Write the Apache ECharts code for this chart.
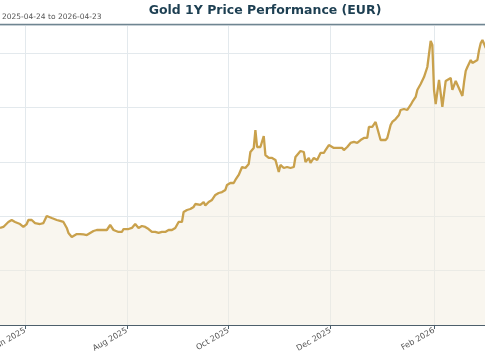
<!DOCTYPE html>
<html>
<head>
<meta charset="utf-8">
<script src="https://cdn.jsdelivr.net/npm/echarts@6/dist/echarts.min.js"></script>
<style>html,body{margin:0;padding:0;background:#fff}#c{width:485px;height:360px}</style>
</head>
<body>
<div id="c"></div>
<script>
const dates = [
'2025-05-17','2025-05-19','2025-05-20','2025-05-22','2025-05-24','2025-05-26','2025-05-29','2025-05-31',
'2025-06-02','2025-06-03','2025-06-05','2025-06-07','2025-06-10','2025-06-12','2025-06-14','2025-06-15',
'2025-06-17','2025-06-18','2025-06-20','2025-06-22','2025-06-24','2025-06-26','2025-06-27','2025-06-29',
'2025-06-30','2025-07-02','2025-07-04','2025-07-06','2025-07-08','2025-07-10','2025-07-12','2025-07-14',
'2025-07-16','2025-07-20','2025-07-22','2025-07-24','2025-07-27','2025-07-29','2025-07-30','2025-08-02',
'2025-08-04','2025-08-06','2025-08-08','2025-08-10','2025-08-12','2025-08-14','2025-08-16','2025-08-18',
'2025-08-20','2025-08-22','2025-08-24','2025-08-26','2025-08-28','2025-08-30','2025-09-01','2025-09-03',
'2025-09-04','2025-09-06','2025-09-08','2025-09-10','2025-09-11','2025-09-14','2025-09-16','2025-09-17',
'2025-09-19','2025-09-21','2025-09-23','2025-09-25','2025-09-27','2025-09-29','2025-09-30','2025-10-02',
'2025-10-04','2025-10-05','2025-10-07','2025-10-09','2025-10-11','2025-10-13','2025-10-14','2025-10-16',
'2025-10-17','2025-10-18','2025-10-20','2025-10-22','2025-10-23','2025-10-25','2025-10-27','2025-10-29',
'2025-10-31','2025-11-01','2025-11-03','2025-11-05','2025-11-07','2025-11-09','2025-11-10','2025-11-13',
'2025-11-15','2025-11-16','2025-11-18','2025-11-19','2025-11-21','2025-11-23','2025-11-25','2025-11-27',
'2025-11-28','2025-11-30','2025-12-01','2025-12-03','2025-12-06','2025-12-08','2025-12-09','2025-12-11',
'2025-12-13','2025-12-15','2025-12-17','2025-12-19','2025-12-21','2025-12-23','2025-12-24','2025-12-25',
'2025-12-26','2025-12-28','2025-12-29','2025-12-31','2026-01-01','2026-01-03','2026-01-04','2026-01-06',
'2026-01-07','2026-01-09','2026-01-11','2026-01-12','2026-01-14','2026-01-16','2026-01-18','2026-01-19',
'2026-01-21','2026-01-22','2026-01-24','2026-01-25','2026-01-26','2026-01-27','2026-01-28','2026-01-30',
'2026-01-31','2026-02-01','2026-02-02','2026-02-03','2026-02-04','2026-02-06','2026-02-08','2026-02-09',
'2026-02-11','2026-02-12','2026-02-14','2026-02-15','2026-02-18','2026-02-19','2026-02-20','2026-02-21',
'2026-02-23','2026-02-24','2026-02-27','2026-02-28','2026-03-01','2026-03-02','2026-03-03','2026-03-04'
];
const prices = [
2892,2901,2892,2947,2965,2947,2928,2901,
2928,2965,2965,2937,2928,2937,3002,3011,
2983,2974,2965,2956,2947,2892,2846,2809,
2800,2836,2836,2832,2827,2846,2864,2873,
2873,2873,2919,2873,2855,2855,2882,2882,
2892,2928,2892,2910,2901,2882,2855,2855,
2846,2855,2855,2873,2873,2892,2947,2947,
3039,3057,3066,3085,3112,3103,3130,3098,
3130,3149,3195,3213,3222,3241,3287,3305,
3305,3333,3379,3452,3443,3480,3590,3627,
3792,3636,3636,3737,3562,3535,3535,3517,
3406,3471,3443,3452,3443,3452,3544,3599,
3590,3498,3535,3489,3535,3517,3581,3581,
3608,3654,3664,3627,3627,3627,3608,3636,
3673,3682,3673,3700,3719,3719,3820,3838,
3820,3866,3857,3700,3696,3700,3719,3838,
3866,3893,3930,3976,3985,3976,4022,4050,
4096,4160,4215,4224,4279,4279,4371,4610,
4573,4160,4031,4013,4252,4004,4243,4252,
4270,4160,4243,4243,4105,4233,4335,4371,
4436,4408,4436,4528,4592,4619,4583,4546
];
const tickDates = ['2025-06-01','2025-08-01','2025-10-01','2025-12-01','2026-02-01'];
const monthNames = ['Jan','Feb','Mar','Apr','May','Jun','Jul','Aug','Sep','Oct','Nov','Dec'];
const titleText = 'Gold 1Y Price Performance (EUR)';
const subText = '2025-04-24 to 2026-04-23';

const toTs = s => new Date(s + 'T00:00:00').getTime();
const tickTs = tickDates.map(toTs);
const seriesData = dates.map((d, i) => [toTs(d), prices[i]]);

const chart = echarts.init(document.getElementById('c'), null, {renderer: 'canvas'});
chart.setOption({
  backgroundColor: '#ffffff',
  animation: false,
  title: [{
    text: titleText, left: 265, top: 4, textAlign: 'center', padding: 0,
    textStyle: {fontFamily: 'DejaVu Sans', fontWeight: 'bold', fontSize: 12.5, color: '#1d3f52'}
  }, {
    text: subText, left: 2, top: 13, padding: 0,
    textStyle: {fontFamily: 'DejaVu Sans', fontWeight: 'normal', fontSize: 7.5, color: '#555555'}
  }],
  grid: {left: 0, right: 0, top: 25, bottom: 35, containLabel: false, outerBoundsMode: 'none'},
  xAxis: {
    type: 'value',
    min: toTs('2025-05-17'),
    max: toTs('2026-03-03') + 13 * 3600 * 1000,
    axisLine: {show: true, onZero: false, lineStyle: {color: '#4d5f6b', width: 1.2}},
    axisTick: {show: true, length: 4, customValues: tickTs, lineStyle: {color: '#4d5f6b'}},
    axisLabel: {
      customValues: tickTs, rotate: 30, margin: 5, fontFamily: 'DejaVu Sans', fontSize: 8, color: '#555555',
      hideOverlap: false,
      formatter: v => { const d = new Date(v); return monthNames[d.getMonth()] + ' ' + d.getFullYear(); }
    },
    splitLine: {show: false}
  },
  yAxis: {
    type: 'value', min: 2000, max: 4757, interval: 500,
    axisLabel: {show: false}, axisLine: {show: false}, axisTick: {show: false},
    splitLine: {show: true, lineStyle: {color: '#e3e9ed', width: 1}}
  },
  graphic: [{
    type: 'line', z: 100,
    shape: {x1: 0, y1: 24.5, x2: 485, y2: 24.5},
    style: {stroke: '#6f8591', lineWidth: 1.5}
  }],
  series: [{
    type: 'line', data: seriesData, showSymbol: false, symbol: 'none', clip: true,
    lineStyle: {color: '#c9a14c', width: 2.3},
    areaStyle: {color: '#f3eddf', opacity: 0.5},
    z: 3,
    markLine: {
      silent: true, symbol: ['none', 'none'], animation: false, z: 1,
      label: {show: false},
      lineStyle: {color: '#e3e9ed', width: 1, type: 'solid'},
      data: tickTs.map(t => ({xAxis: t}))
    }
  }]
});
</script>
</body>
</html>
